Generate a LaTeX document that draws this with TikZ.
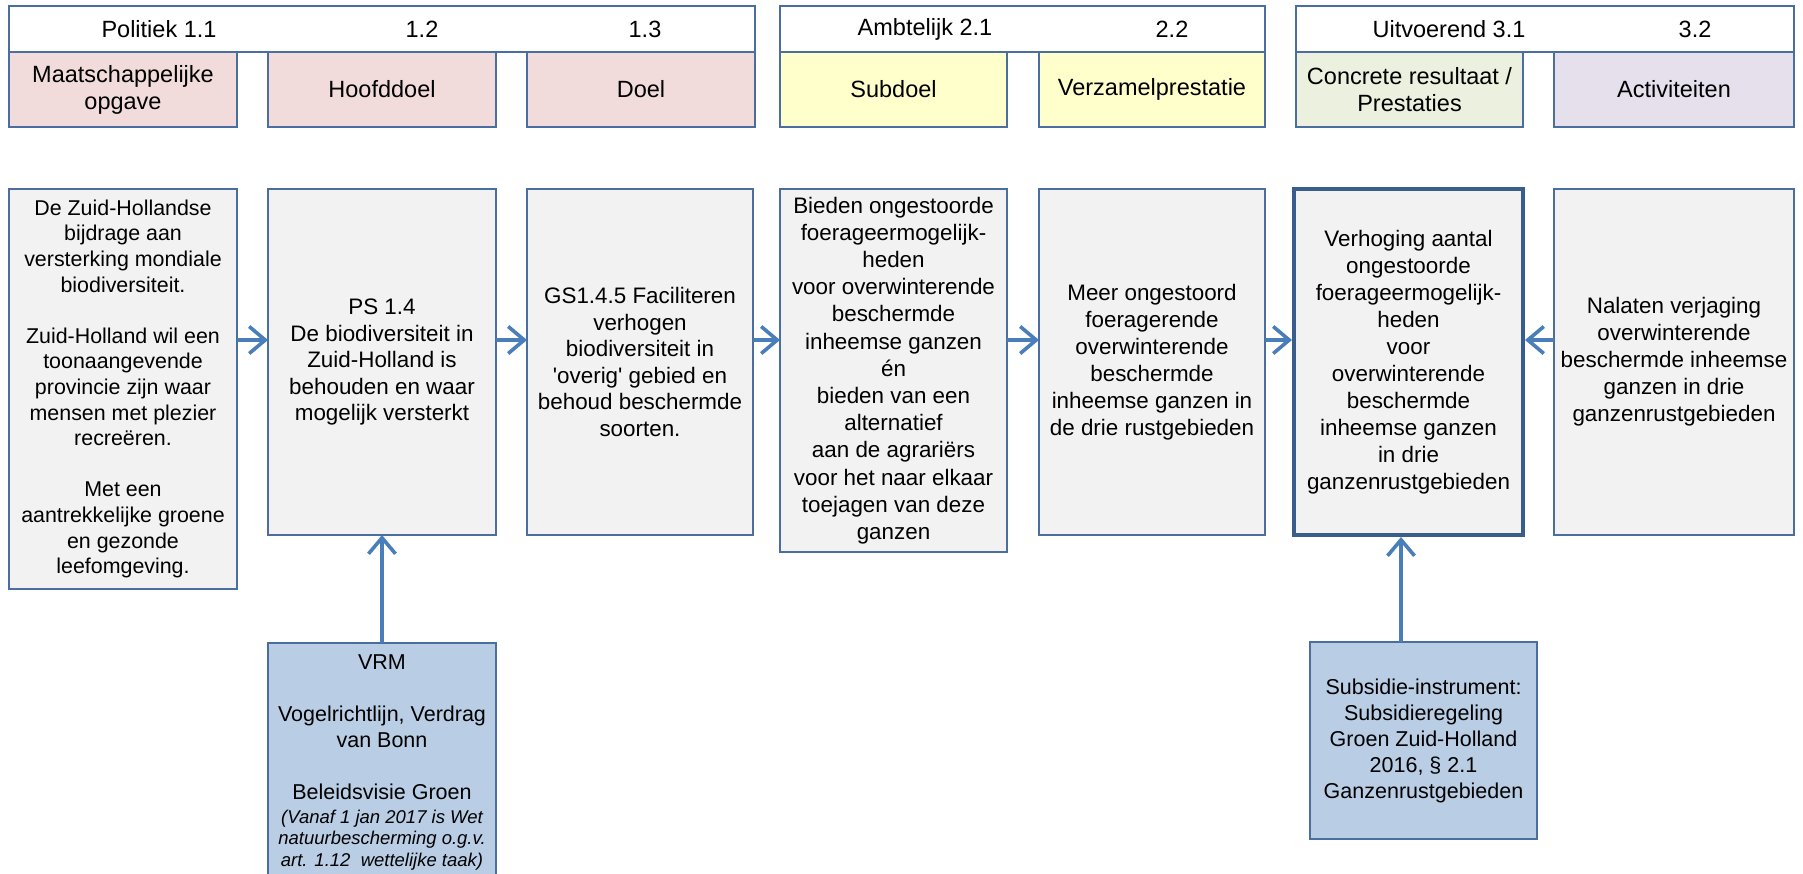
\documentclass[tikz,border=0pt]{standalone}
\usepackage{fontspec}
\setmainfont{Liberation Sans}
\usetikzlibrary{arrows.meta}
\definecolor{edgec}{HTML}{4A6E9F}
\definecolor{thickc}{HTML}{3A5E8C}
\definecolor{arrowc}{HTML}{4A7EBB}
\definecolor{bodyfill}{HTML}{F2F2F2}
\definecolor{pinkf}{HTML}{F2DCDB}
\definecolor{yellowf}{HTML}{FFFFCC}
\definecolor{greenf}{HTML}{EBF1DE}
\definecolor{purplef}{HTML}{E5E0EC}
\definecolor{bluef}{HTML}{B9CDE5}
\newcommand{\itfnt}{\fontsize{18.5}{22}\selectfont\itshape}
\begin{document}
\begin{tikzpicture}[x=1pt,y=-1pt,
  every node/.style={inner sep=0pt, outer sep=0pt},
  frame/.style={draw=edgec, line width=1.6pt, align=center},
  hdr/.style={frame, fill=white, minimum height=46},
  lbl/.style={font=\fontsize{23.5}{27}\selectfont},
  sub/.style={frame, font=\fontsize{23.5}{27}\selectfont, minimum height=75},
  card/.style={frame, fill=bodyfill, font=\fontsize{22.4}{26.5}\selectfont, minimum height=346},
  keycard/.style={draw=thickc, line width=4pt, align=center, fill=bodyfill, outer sep=2pt,
     font=\fontsize{22.4}{27}\selectfont, minimum height=346},
  src/.style={frame, fill=bluef, font=\fontsize{21.5}{26}\selectfont},
  arr/.style={draw=arrowc, line width=3.2pt, -{Straight Barb[length=16pt,width=27pt,line width=3.6pt]}}
]
\useasboundingbox (0,0) rectangle (1803,873);

% header bars
\node[hdr, minimum width=746] (h1) at (382,29) {};
\node[hdr, minimum width=485] (h2) at (1022.5,29) {};
\node[hdr, minimum width=498] (h3) at (1545,29) {};
\node[lbl] (t11) at (159,29) {Politiek 1.1};
\node[lbl] (t12) at (422,29) {1.2};
\node[lbl] (t13) at (645,29) {1.3};
\node[lbl] (t21) at (925,29) {Ambtelijk 2.1};
\node[lbl] (t22) at (1172,29) {2.2};
\node[lbl] (t31) at (1449,29) {Uitvoerend 3.1};
\node[lbl] (t32) at (1695,29) {3.2};

% category boxes
\node[sub, fill=pinkf, minimum width=228] (s11) at (123,89.5) {Maatschappelijke\\opgave};
\node[sub, fill=pinkf, minimum width=228] (s12) at (382,89.5) {Hoofddoel};
\node[sub, fill=pinkf, minimum width=228] (s13) at (641,89.5) {Doel};
\node[sub, fill=yellowf, minimum width=227] (s21) at (893.5,89.5) {Subdoel};
\node[sub, fill=yellowf, minimum width=226] (s22) at (1152,89.5) {Verzamelprestatie};
\node[sub, fill=greenf, minimum width=227] (s31) at (1409.5,89.5) {Concrete resultaat /\\Prestaties};
\node[sub, fill=purplef, minimum width=240] (s32) at (1674,89.5) {Activiteiten};

% main boxes
\node[card, minimum width=228, minimum height=400, font=\fontsize{21.4}{25.6}\selectfont] (b1) at (123,389)
 {De Zuid-Hollandse\\bijdrage aan\\versterking mondiale\\biodiversiteit.\\[25.6pt]
  Zuid-Holland wil een\\toonaangevende\\provincie zijn waar\\mensen met plezier\\recreëren.\\[25.6pt]
  Met een\\aantrekkelijke groene\\en gezonde\\leefomgeving.};
\node[card, minimum width=228] (b2) at (382,362)
 {PS 1.4\\De biodiversiteit in\\Zuid-Holland is\\behouden en waar\\mogelijk versterkt};
\node[card, minimum width=226] (b3) at (640,362)
 {GS1.4.5 Faciliteren\\verhogen\\biodiversiteit in\\\textquotesingle overig\textquotesingle\ gebied en\\behoud beschermde\\soorten.};
\node[card, minimum width=227, minimum height=363, font=\fontsize{22.4}{27.2}\selectfont] (b4) at (893.5,370.5)
 {Bieden ongestoorde\\foerageermogelijk-\\heden\\voor overwinterende\\beschermde\\inheemse ganzen\\én\\bieden van een\\alternatief\\aan de agrariërs\\voor het naar elkaar\\toejagen van deze\\ganzen};
\node[card, minimum width=226, font=\fontsize{22.4}{27}\selectfont] (b5) at (1152,362)
 {Meer ongestoord\\foeragerende\\overwinterende\\beschermde\\inheemse ganzen in\\de drie rustgebieden};
\node[keycard, minimum width=229] (b6) at (1408.5,362)
 {Verhoging aantal\\ongestoorde\\foerageermogelijk-\\heden\\voor\\overwinterende\\beschermde\\inheemse ganzen\\in drie\\ganzenrustgebieden};
\node[card, minimum width=240, font=\fontsize{22.4}{27}\selectfont] (b7) at (1674,362)
 {Nalaten verjaging\\overwinterende\\beschermde inheemse\\ganzen in drie\\ganzenrustgebieden};

% instrument boxes
\node[src, anchor=north, minimum width=228, inner ysep=12pt] (vrm) at (382,643)
 {VRM\\[26pt]Vogelrichtlijn, Verdrag\\van Bonn\\[26pt]Beleidsvisie Groen\\[-2.5pt]
  {\itfnt (Vanaf 1 jan 2017 is Wet}\\[-4.5pt]{\itfnt natuurbescherming o.g.v.}\\[-4.5pt]{\itfnt art. 1.12~~wettelijke taak)}};
\node[src, minimum width=227, minimum height=197] (subs) at (1423.5,740.5)
 {Subsidie-instrument:\\Subsidieregeling\\Groen Zuid-Holland\\2016, \S~2.1\\Ganzenrustgebieden};

% connectors
\coordinate (ay) at (0,340);
\coordinate (sx) at (1401,0);
\draw[arr] (b1.east |- ay) -- (b2.west |- ay);
\draw[arr] (b2.east |- ay) -- (b3.west |- ay);
\draw[arr] (b3.east |- ay) -- (b4.west |- ay);
\draw[arr] (b4.east |- ay) -- (b5.west |- ay);
\draw[arr] (b5.east |- ay) -- (b6.west |- ay);
\draw[arr] (b7.west |- ay) -- (b6.east |- ay);
\draw[arr] (vrm.north) -- (b2.south);
\draw[arr] (sx |- subs.north) -- (sx |- b6.south);
\end{tikzpicture}
\end{document}
